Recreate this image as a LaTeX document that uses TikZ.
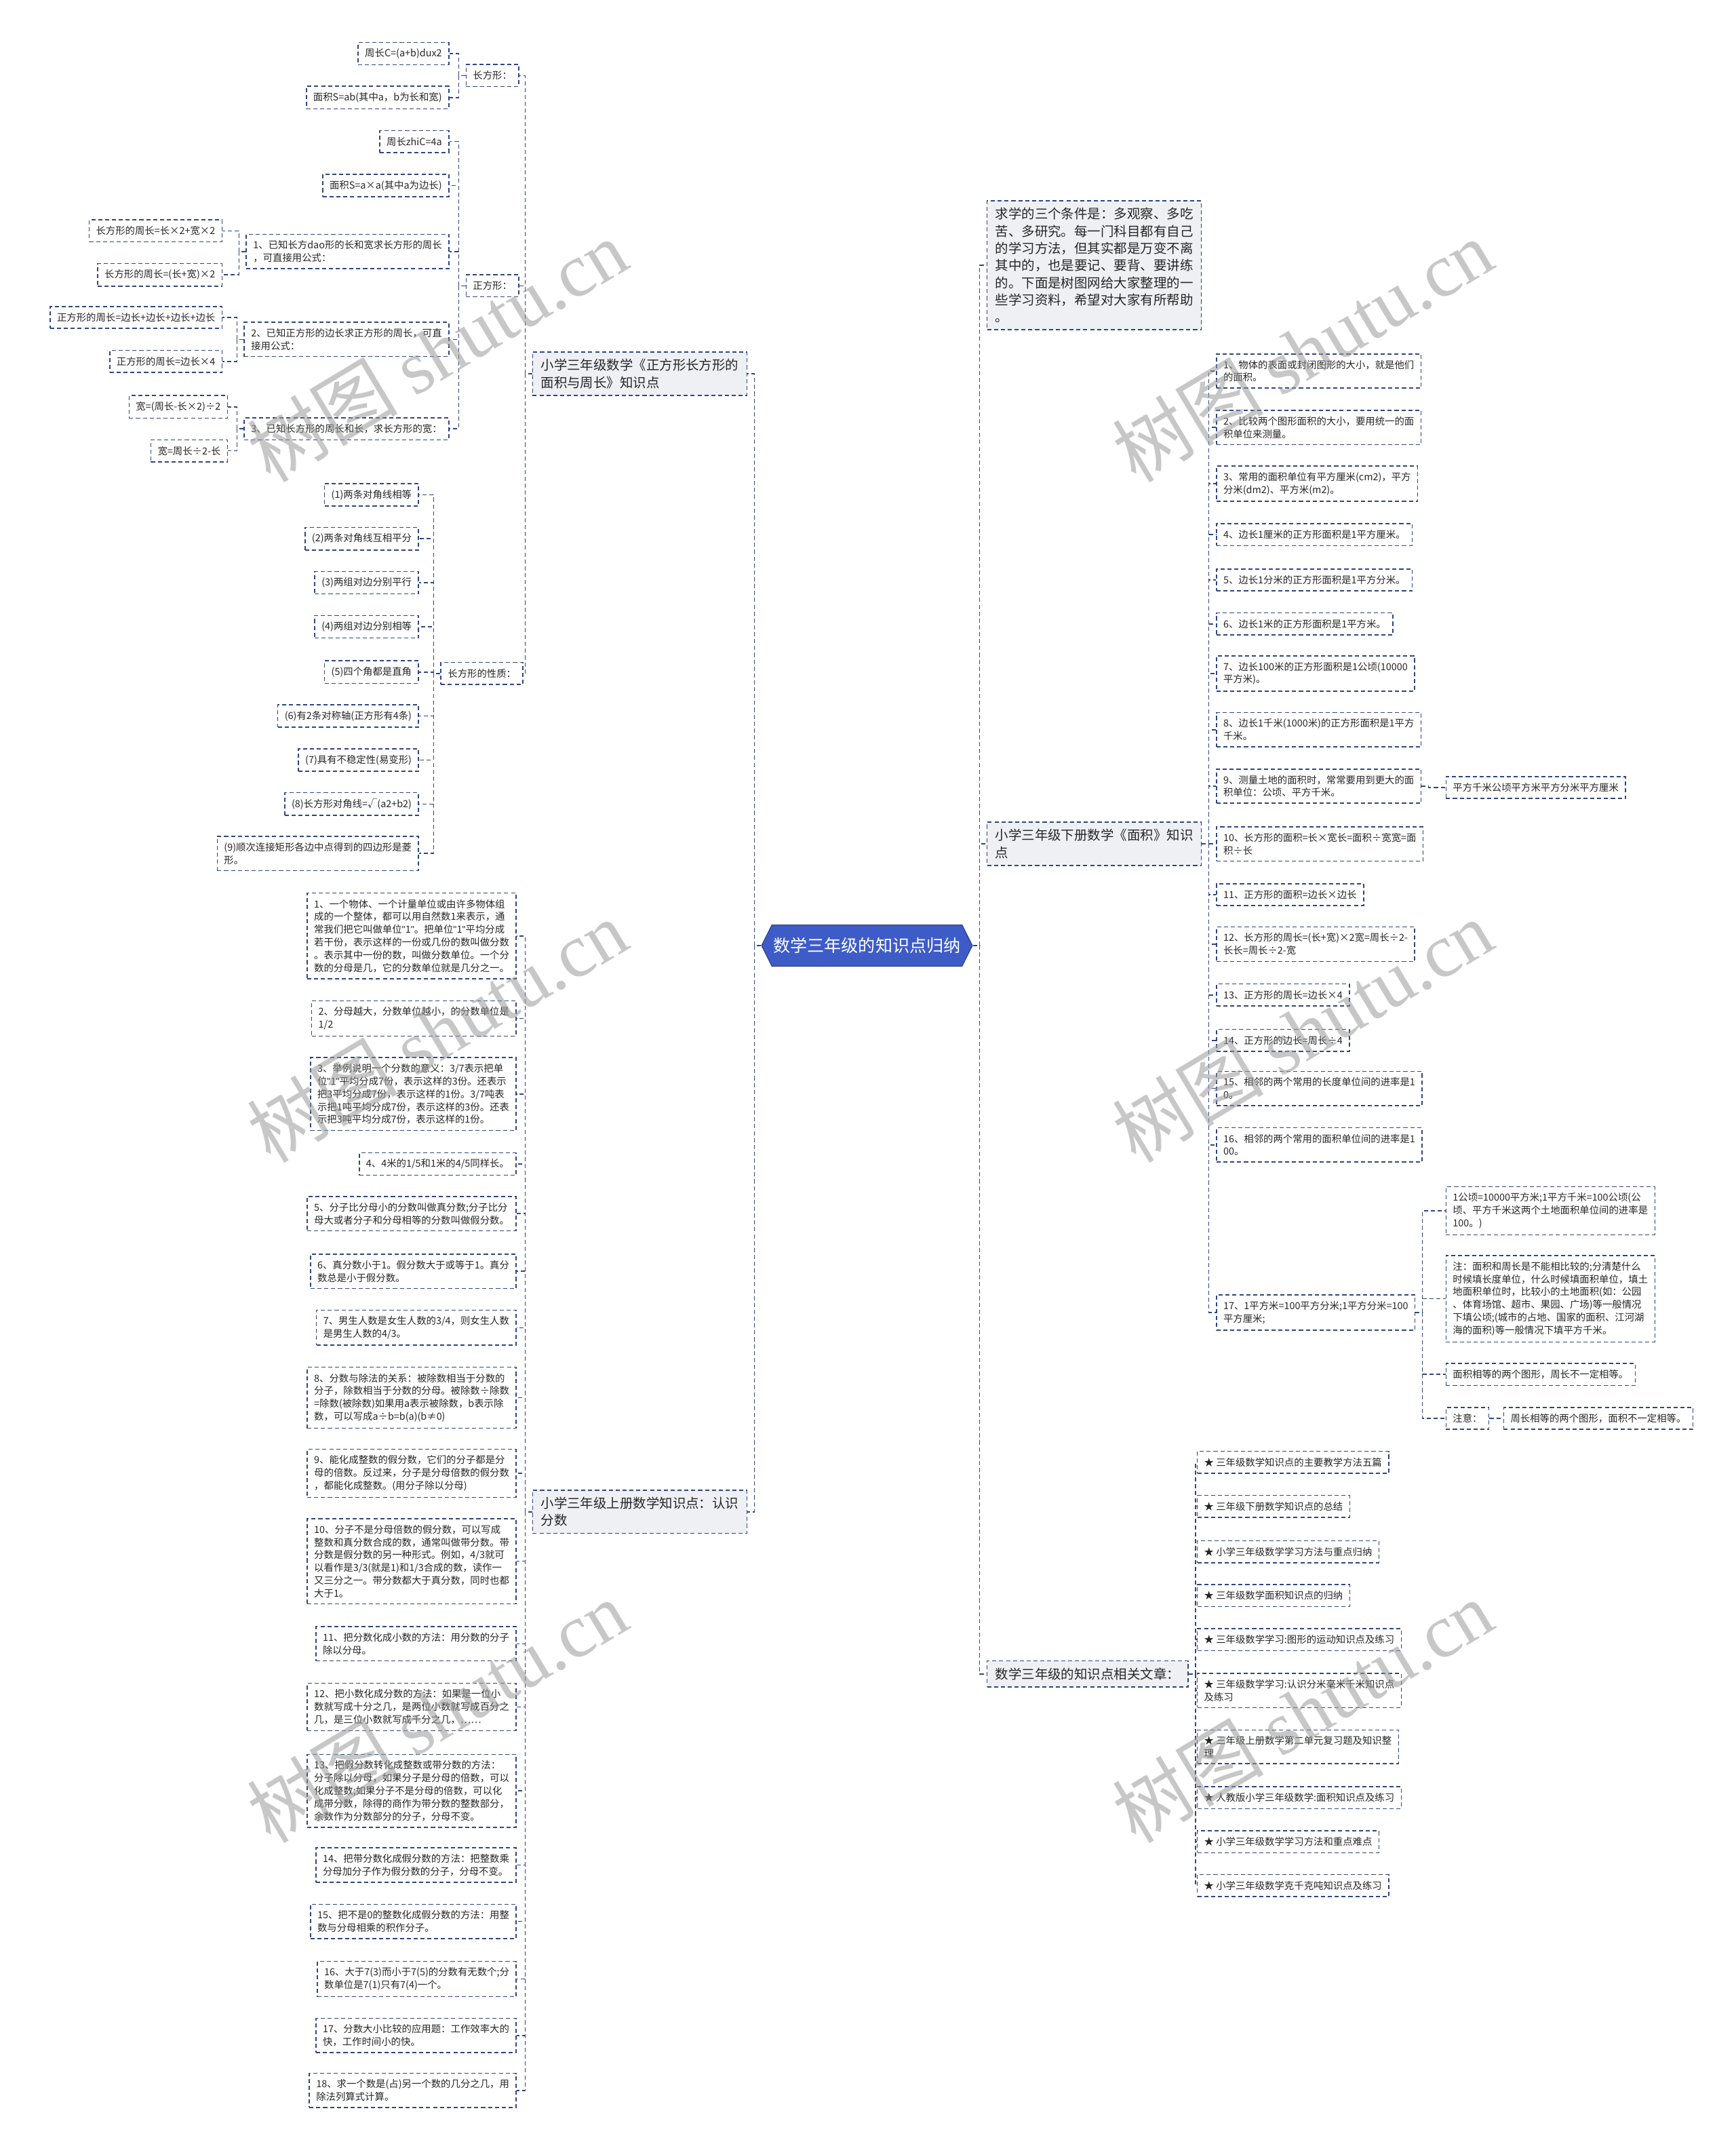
\documentclass[tikz,border=0pt]{standalone}
\usepackage{fontspec}
\setmainfont{Noto Sans CJK SC}
\newfontfamily\wmlatin{Liberation Serif}
\newfontfamily\qfont{Liberation Sans}
\usetikzlibrary{shapes.symbols}
\definecolor{Ec}{HTML}{2E4583}
\definecolor{Bf}{HTML}{EEF0F4}
\definecolor{Rt}{HTML}{3D5CC8}
\newcommand{\leaffont}{\fontsize{7.1}{9.3}\selectfont}
\newcommand{\brfont}{\fontsize{9.6}{12.5}\selectfont}
\newcommand{\dq}{{\qfont"}}
\tikzset{
  box/.style={draw=Ec, line width=0.75pt, dash pattern=on 3pt off 2pt, fill=white, align=left,
    font=\leaffont, text=black!85, inner xsep=5pt, inner ysep=4.5pt, minimum height=16pt},
  br/.style={box, fill=Bf, font=\brfont, inner xsep=6pt, inner ysep=5pt},
  rootnode/.style={signal, signal to=west and east, signal pointer angle=127, fill=Rt,
    draw=Rt!70!black, line width=0.6pt, text=white, font=\fontsize{12.4}{15}\selectfont,
    minimum height=30pt, inner xsep=1pt},
  link/.style={draw=Ec, line width=0.75pt, dash pattern=on 3pt off 2pt},
  wm/.style={text=black!40, text opacity=0.55, rotate=31, font=\fontsize{55}{55}\selectfont},
}
\newcommand{\lk}[2]{\draw[link] (#1.west) -- ++(-5,0) |- (#2.east);}
\newcommand{\rk}[2]{\draw[link] (#1.east) -- ++(5,0) |- (#2.west);}

\begin{document}
\begin{tikzpicture}[x=1pt, y=-1pt]
  \fill[white] (0,0) rectangle (1263,1568);
  \useasboundingbox (0,0) rectangle (1263,1568);
  % root and main branches
  \node[rootnode] (root) at (631,688) {数学三年级的知识点归纳};
  \node[br, anchor=east] (b1) at (544,272) {小学三年级数学《正方形长方形的\\面积与周长》知识点};
  \node[br, anchor=east] (b2) at (544,1100) {小学三年级上册数学知识点：认识\\分数};
  \node[br, anchor=west] (r0) at (718,193) {求学的三个条件是：多观察、多吃\\苦、多研究。每一门科目都有自己\\的学习方法，但其实都是万变不离\\其中的，也是要记、要背、要讲练\\的。下面是树图网给大家整理的一\\些学习资料，希望对大家有所帮助\\。};
  \node[br, anchor=west] (r1) at (718,614) {小学三年级下册数学《面积》知识\\点};
  \node[br, anchor=west] (r2) at (718,1218) {数学三年级的知识点相关文章：};
  \foreach \b in {b1,b2} {\lk{root}{\b}}
  \foreach \b in {r0,r1,r2} {\rk{root}{\b}}

  % rectangle and square
  \node[box, anchor=east] (rect) at (378,55) {长方形：};
  \node[box, anchor=east] (sq) at (378,208) {正方形：};
  \node[box, anchor=east] (prop) at (381,490) {长方形的性质：};
  \foreach \c in {rect,sq,prop} {\lk{b1}{\c}}
  \node[box, anchor=east] (rect1) at (327,39) {周长C=(a+b)dux2};
  \node[box, anchor=east] (rect2) at (327,71) {面积S=ab(其中a，b为长和宽)};
  \foreach \i in {1,2} {\lk{rect}{rect\i}}
  \node[box, anchor=east] (sq1) at (327,103) {周长zhiC=4a};
  \node[box, anchor=east] (sq2) at (327,135) {面积S=a×a(其中a为边长)};
  \node[box, anchor=east] (sq3) at (327,183) {1、已知长方dao形的长和宽求长方形的周长\\，可直接用公式：};
  \node[box, anchor=east] (sq4) at (327,247) {2、已知正方形的边长求正方形的周长，可直\\接用公式：};
  \node[box, anchor=east] (sq5) at (327,312) {3、已知长方形的周长和长，求长方形的宽：};
  \foreach \i in {1,...,5} {\lk{sq}{sq\i}}
  \node[box, anchor=east] (sq31) at (162,168) {长方形的周长=长×2+宽×2};
  \node[box, anchor=east] (sq32) at (162,200) {长方形的周长=(长+宽)×2};
  \node[box, anchor=east] (sq41) at (162,231) {正方形的周长=边长+边长+边长+边长};
  \node[box, anchor=east] (sq42) at (162,263) {正方形的周长=边长×4};
  \node[box, anchor=east] (sq51) at (166,296) {宽=(周长-长×2)÷2};
  \node[box, anchor=east] (sq52) at (166,328) {宽=周长÷2-长};
  \foreach \i in {3,4,5} {\lk{sq\i}{sq\i1} \lk{sq\i}{sq\i2}}

  % properties
  \node[box, anchor=east] (p1) at (305,360) {(1)两条对角线相等};
  \node[box, anchor=east] (p2) at (305,392) {(2)两条对角线互相平分};
  \node[box, anchor=east] (p3) at (305,424) {(3)两组对边分别平行};
  \node[box, anchor=east] (p4) at (305,456) {(4)两组对边分别相等};
  \node[box, anchor=east] (p5) at (305,489) {(5)四个角都是直角};
  \node[box, anchor=east] (p6) at (305,521) {(6)有2条对称轴(正方形有4条)};
  \node[box, anchor=east] (p7) at (305,553) {(7)具有不稳定性(易变形)};
  \node[box, anchor=east] (p8) at (305,585) {(8)长方形对角线=√(a2+b2)};
  \node[box, anchor=east] (p9) at (305,621) {(9)顺次连接矩形各边中点得到的四边形是菱\\形。};
  \foreach \i in {1,...,9} {\lk{prop}{p\i}}

  % fractions
  \node[box, anchor=east] (f1) at (376,681) {1、一个物体、一个计量单位或由许多物体组\\成的一个整体，都可以用自然数1来表示，通\\常我们把它叫做单位\dq{}1\dq{}。把单位\dq{}1\dq{}平均分成\\若干份，表示这样的一份或几份的数叫做分数\\。表示其中一份的数，叫做分数单位。一个分\\数的分母是几，它的分数单位就是几分之一。};
  \node[box, anchor=east] (f2) at (376,741) {2、分母越大，分数单位越小，的分数单位是\\1/2};
  \node[box, anchor=east] (f3) at (376,796) {3、举例说明一个分数的意义：3/7表示把单\\位\dq{}1\dq{}平均分成7份，表示这样的3份。还表示\\把3平均分成7份，表示这样的1份。3/7吨表\\示把1吨平均分成7份，表示这样的3份。还表\\示把3吨平均分成7份，表示这样的1份。};
  \node[box, anchor=east] (f4) at (376,847) {4、4米的1/5和1米的4/5同样长。};
  \node[box, anchor=east] (f5) at (376,883) {5、分子比分母小的分数叫做真分数;分子比分\\母大或者分子和分母相等的分数叫做假分数。};
  \node[box, anchor=east] (f6) at (376,925) {6、真分数小于1。假分数大于或等于1。真分\\数总是小于假分数。};
  \node[box, anchor=east] (f7) at (376,966) {7、男生人数是女生人数的3/4，则女生人数\\是男生人数的4/3。};
  \node[box, anchor=east] (f8) at (376,1017) {8、分数与除法的关系：被除数相当于分数的\\分子，除数相当于分数的分母。被除数÷除数\\=除数(被除数)如果用a表示被除数，b表示除\\数，可以写成a÷b=b(a)(b≠0)};
  \node[box, anchor=east] (f9) at (376,1072) {9、能化成整数的假分数，它们的分子都是分\\母的倍数。反过来，分子是分母倍数的假分数\\，都能化成整数。(用分子除以分母)};
  \node[box, anchor=east] (f10) at (376,1136) {10、分子不是分母倍数的假分数，可以写成\\整数和真分数合成的数，通常叫做带分数。带\\分数是假分数的另一种形式。例如，4/3就可\\以看作是3/3(就是1)和1/3合成的数，读作一\\又三分之一。带分数都大于真分数，同时也都\\大于1。};
  \node[box, anchor=east] (f11) at (376,1196) {11、把分数化成小数的方法：用分数的分子\\除以分母。};
  \node[box, anchor=east] (f12) at (376,1242) {12、把小数化成分数的方法：如果是一位小\\数就写成十分之几，是两位小数就写成百分之\\几，是三位小数就写成千分之几，……};
  \node[box, anchor=east] (f13) at (376,1303) {13、把假分数转化成整数或带分数的方法：\\分子除以分母，如果分子是分母的倍数，可以\\化成整数;如果分子不是分母的倍数，可以化\\成带分数，除得的商作为带分数的整数部分，\\余数作为分数部分的分子，分母不变。};
  \node[box, anchor=east] (f14) at (376,1357) {14、把带分数化成假分数的方法：把整数乘\\分母加分子作为假分数的分子，分母不变。};
  \node[box, anchor=east] (f15) at (376,1398) {15、把不是0的整数化成假分数的方法：用整\\数与分母相乘的积作分子。};
  \node[box, anchor=east] (f16) at (376,1440) {16、大于7(3)而小于7(5)的分数有无数个;分\\数单位是7(1)只有7(4)一个。};
  \node[box, anchor=east] (f17) at (376,1481) {17、分数大小比较的应用题：工作效率大的\\快，工作时间小的快。};
  \node[box, anchor=east] (f18) at (376,1521) {18、求一个数是(占)另一个数的几分之几，用\\除法列算式计算。};
  \foreach \i in {1,...,18} {\lk{b2}{f\i}}

  % area
  \node[box, anchor=west] (a1) at (885,270) {1、物体的表面或封闭图形的大小，就是他们\\的面积。};
  \node[box, anchor=west] (a2) at (885,311) {2、比较两个图形面积的大小，要用统一的面\\积单位来测量。};
  \node[box, anchor=west] (a3) at (885,352) {3、常用的面积单位有平方厘米(cm2)，平方\\分米(dm2)、平方米(m2)。};
  \node[box, anchor=west] (a4) at (885,389) {4、边长1厘米的正方形面积是1平方厘米。};
  \node[box, anchor=west] (a5) at (885,422) {5、边长1分米的正方形面积是1平方分米。};
  \node[box, anchor=west] (a6) at (885,454) {6、边长1米的正方形面积是1平方米。};
  \node[box, anchor=west] (a7) at (885,490) {7、边长100米的正方形面积是1公顷(10000\\平方米)。};
  \node[box, anchor=west] (a8) at (885,531) {8、边长1千米(1000米)的正方形面积是1平方\\千米。};
  \node[box, anchor=west] (a9) at (885,572) {9、测量土地的面积时，常常要用到更大的面\\积单位：公顷、平方千米。};
  \node[box, anchor=west] (a10) at (885,614) {10、长方形的面积=长×宽长=面积÷宽宽=面\\积÷长};
  \node[box, anchor=west] (a11) at (885,651) {11、正方形的面积=边长×边长};
  \node[box, anchor=west] (a12) at (885,687) {12、长方形的周长=(长+宽)×2宽=周长÷2-\\长长=周长÷2-宽};
  \node[box, anchor=west] (a13) at (885,724) {13、正方形的周长=边长×4};
  \node[box, anchor=west] (a14) at (885,757) {14、正方形的边长=周长÷4};
  \node[box, anchor=west] (a15) at (885,792) {15、相邻的两个常用的长度单位间的进率是1\\0。};
  \node[box, anchor=west] (a16) at (885,833) {16、相邻的两个常用的面积单位间的进率是1\\00。};
  \node[box, anchor=west] (a17) at (885,955) {17、1平方米=100平方分米;1平方分米=100\\平方厘米;};
  \foreach \i in {1,...,17} {\rk{r1}{a\i}}
  \node[box, anchor=west] (a91) at (1052,573) {平方千米公顷平方米平方分米平方厘米};
  \rk{a9}{a91}
  \node[box, anchor=west] (u1) at (1052,881) {1公顷=10000平方米;1平方千米=100公顷(公\\顷、平方千米这两个土地面积单位间的进率是\\100。)};
  \node[box, anchor=west] (u2) at (1052,945) {注：面积和周长是不能相比较的;分清楚什么\\时候填长度单位，什么时候填面积单位，填土\\地面积单位时，比较小的土地面积(如：公园\\、体育场馆、超市、果园、广场)等一般情况\\下填公顷;(城市的占地、国家的面积、江河湖\\海的面积)等一般情况下填平方千米。};
  \node[box, anchor=west] (u3) at (1052,1000) {面积相等的两个图形，周长不一定相等。};
  \node[box, anchor=west] (u4) at (1052,1032) {注意：};
  \foreach \i in {1,...,4} {\rk{a17}{u\i}}
  \node[box, anchor=west] (u41) at (1094,1032) {周长相等的两个图形，面积不一定相等。};
  \rk{u4}{u41}

  % related articles
  \node[box, anchor=west] (s1) at (871,1064) {★ 三年级数学知识点的主要教学方法五篇};
  \node[box, anchor=west] (s2) at (871,1096) {★ 三年级下册数学知识点的总结};
  \node[box, anchor=west] (s3) at (871,1129) {★ 小学三年级数学学习方法与重点归纳};
  \node[box, anchor=west] (s4) at (871,1161) {★ 三年级数学面积知识点的归纳};
  \node[box, anchor=west] (s5) at (871,1193) {★ 三年级数学学习:图形的运动知识点及练习};
  \node[box, anchor=west] (s6) at (871,1230) {★ 三年级数学学习:认识分米毫米千米知识点\\及练习};
  \node[box, anchor=west] (s7) at (871,1271) {★ 三年级上册数学第二单元复习题及知识整\\理};
  \node[box, anchor=west] (s8) at (871,1308) {★ 人教版小学三年级数学:面积知识点及练习};
  \node[box, anchor=west] (s9) at (871,1340) {★ 小学三年级数学学习方法和重点难点};
  \node[box, anchor=west] (s10) at (871,1372) {★ 小学三年级数学克千克吨知识点及练习};
  \foreach \i in {1,...,10} {\rk{r2}{s\i}}

  % watermark
  \foreach \wx/\wy [count=\k] in {318/255, 948/255, 318/750, 948/750, 318/1245, 948/1245}
    \node[wm] (wm\k) at (\wx,\wy) {树图 {\wmlatin shutu.cn}};
\end{tikzpicture}
\end{document}
